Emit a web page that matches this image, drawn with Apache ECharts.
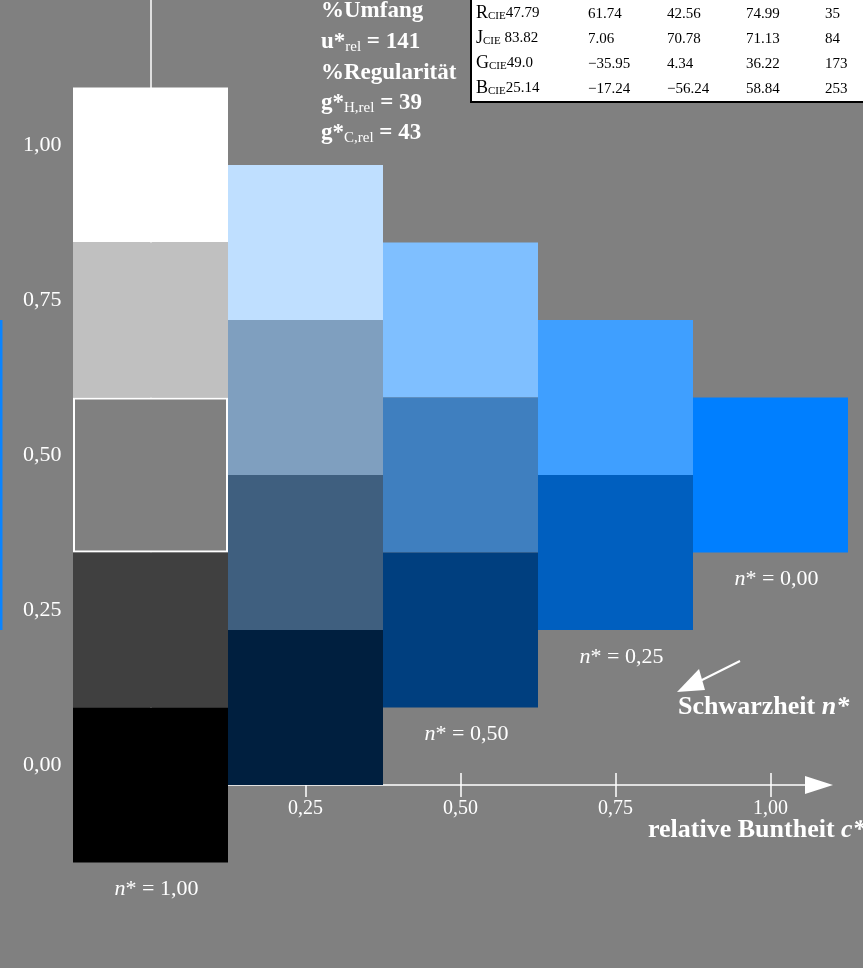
<!DOCTYPE html>
<html>
<head>
<meta charset="utf-8">
<script src="https://cdn.jsdelivr.net/npm/echarts@6/dist/echarts.min.js"></script>
<style>
html,body{margin:0;padding:0;background:#808080;}
#chart{width:863px;height:968px;}
</style>
</head>
<body>
<div id="chart"></div>
<script>
// ---- data ----
const cellC = [0, 0, 0, 0, 0, 0.25, 0.25, 0.25, 0.25, 0.5, 0.5, 0.5, 0.75, 0.75, 1];
const cellL = [1, 0.75, 0.5, 0.25, 0, 0.875, 0.625, 0.375, 0.125, 0.75, 0.5, 0.25, 0.625, 0.375, 0.5];
const cellColors = ['#ffffff', '#c0c0c0', '#808080', '#404040', '#000000',
  '#bfdfff', '#7f9fbf', '#3f5f7f', '#001f3f',
  '#7fbfff', '#3f7fbf', '#003f7f',
  '#3f9fff', '#005fbf',
  '#007fff'];
const cellOutlined = [false, false, true, false, false, false, false, false, false, false, false, false, false, false, false];
const xTickValues = [0.25, 0.5, 0.75, 1];
const xTickLabels = ['0,25', '0,50', '0,75', '1,00'];
const yTickValues = [0, 0.25, 0.5, 0.75, 1];
const yTickLabels = ['0,00', '0,25', '0,50', '0,75', '1,00'];
const nLabelC = [0, 0.5, 0.75, 1];
const nLabelL = [-0.125, 0.125, 0.25, 0.375];
const nLabelText = ['1,00', '0,50', '0,25', '0,00'];
const infoLines = [
  '{b|%Umfang}',
  '{b|u*}{s|rel}{b| = 141}',
  '{b|%Regularität}',
  '{b|g*}{s|H,rel}{b| = 39}',
  '{b|g*}{s|C,rel}{b| = 43}'
];
const tableRowNames = ['R', 'J', 'G', 'B'];
const tableValues = [
  ['47.79', '61.74', '42.56', '74.99', '35'],
  [' 83.82', '7.06', '70.78', '71.13', '84'],
  ['49.0', '\u221235.95', '4.34', '36.22', '173'],
  ['25.14', '\u221217.24', '\u221256.24', '58.84', '253']
];

// ---- layout constants ----
const FONT = 'Liberation Serif';
const TXT = '#ffffff';
const cellData = cellC.map((c, i) => [c, cellL[i], i]);
const nData = nLabelC.map((c, i) => [c, nLabelL[i], i]);

const graphics = [];
graphics.push({ type: 'rect', shape: { x: 0, y: 320, width: 2.5, height: 310 }, style: { fill: '#0a84ff' }, z: 5 });
const infoY = [12, 43, 74, 104, 134];
infoLines.forEach((t, i) => {
  graphics.push({
    type: 'text', x: 321, y: infoY[i], z: 10,
    style: {
      text: t, verticalAlign: 'middle', align: 'left',
      rich: {
        b: { fontFamily: FONT, fontWeight: 'bold', fontSize: 23, fill: TXT, verticalAlign: 'bottom', padding: [0, 0, 1, 0] },
        s: { fontFamily: FONT, fontSize: 15, fill: TXT, verticalAlign: 'bottom' }
      }
    }
  });
});
// table
graphics.push({ type: 'rect', shape: { x: 471, y: -5, width: 400, height: 107 }, style: { fill: '#ffffff', stroke: '#000000', lineWidth: 2 }, z: 8 });
const rowY = [13, 38, 63, 88];
const colX = [588, 667, 746, 825];
tableRowNames.forEach((nm, r) => {
  graphics.push({
    type: 'text', x: 476, y: rowY[r], z: 10,
    style: {
      text: '{m|' + nm + '}{s|CIE}{v|' + tableValues[r][0] + '}', verticalAlign: 'middle', align: 'left',
      rich: {
        m: { fontFamily: FONT, fontSize: 18, fill: '#000', verticalAlign: 'bottom' },
        s: { fontFamily: FONT, fontSize: 11, fill: '#000', verticalAlign: 'bottom' },
        v: { fontFamily: FONT, fontSize: 15, fill: '#000', verticalAlign: 'bottom', padding: [0, 0, 1, 0] }
      }
    }
  });
  for (let k = 1; k < 5; k++) {
    graphics.push({
      type: 'text', x: colX[k - 1], y: rowY[r] + 1, z: 10,
      style: { text: tableValues[r][k], fontFamily: FONT, fontSize: 15, fill: '#000', verticalAlign: 'middle', align: 'left' }
    });
  }
});
// Schwarzheit arrow + label
graphics.push({ type: 'line', shape: { x1: 740, y1: 661, x2: 700, y2: 681 }, style: { stroke: '#ffffff', lineWidth: 2 }, z: 10 });
graphics.push({ type: 'polygon', shape: { points: [[677, 692], [699, 669], [705, 690]] }, style: { fill: '#ffffff' }, z: 10 });
graphics.push({
  type: 'text', x: 678, y: 707, z: 10,
  style: {
    text: '{b|Schwarzheit }{bi|n*}', verticalAlign: 'middle', align: 'left',
    rich: {
      b: { fontFamily: FONT, fontWeight: 'bold', fontSize: 26, fill: TXT },
      bi: { fontFamily: FONT, fontWeight: 'bold', fontStyle: 'italic', fontSize: 26, fill: TXT }
    }
  }
});
graphics.push({
  type: 'text', x: 648, y: 830, z: 10,
  style: {
    text: '{b|relative Buntheit }{bi|c*}', verticalAlign: 'middle', align: 'left',
    rich: {
      b: { fontFamily: FONT, fontWeight: 'bold', fontSize: 26, fill: TXT },
      bi: { fontFamily: FONT, fontWeight: 'bold', fontStyle: 'italic', fontSize: 26, fill: TXT }
    }
  }
});

const chart = echarts.init(document.getElementById('chart'), null, { renderer: 'canvas' });
const Y_MAX = 785 / 620;
const X_MAX = (819 - 150.5) / 620;
const labelStyle = { fontFamily: FONT, fontSize: 22, color: TXT };

chart.setOption({
  backgroundColor: '#808080',
  animation: false,
  grid: { left: 150.5, right: 44, top: 0, bottom: 183, containLabel: false },
  xAxis: [{
    type: 'value', min: 0, max: X_MAX, interval: 0.25, position: 'bottom',
    splitLine: { show: false },
    axisLine: { show: true, onZero: false, lineStyle: { color: '#ffffff', width: 1.5 }, symbol: ['none', 'triangle'], symbolSize: [18, 28] },
    axisTick: { show: true, inside: false, length: 12, customValues: xTickValues, lineStyle: { color: '#ffffff', width: 1.5 } },
    axisLabel: Object.assign({}, labelStyle, { fontSize: 20, margin: 14, lineHeight: 20, customValues: xTickValues, formatter: v => xTickLabels[xTickValues.indexOf(v)] })
  }, {
    type: 'value', min: 0, max: X_MAX, interval: 0.25, position: 'bottom',
    splitLine: { show: false },
    axisLine: { show: false, onZero: false },
    axisTick: { show: true, inside: true, length: 12, customValues: xTickValues, lineStyle: { color: '#ffffff', width: 1.5 } },
    axisLabel: { show: false }
  }],
  yAxis: [{
    type: 'value', min: 0, max: Y_MAX, interval: 0.25, position: 'left',
    splitLine: { show: false },
    axisLine: { show: true, onZero: false, lineStyle: { color: '#ffffff', width: 1.5 } },
    axisTick: { show: false },
    axisLabel: Object.assign({ margin: 89, customValues: yTickValues, verticalAlign: 'bottom', lineHeight: 40, formatter: v => yTickLabels[yTickValues.indexOf(v)] }, labelStyle)
  }],
  graphic: graphics,
  series: [{
    type: 'custom',
    coordinateSystem: 'cartesian2d',
    clip: false,
    z: 3,
    data: cellData,
    renderItem: function (params, api) {
      const c = api.coord([api.value(0), api.value(1)]);
      const s = api.size([0.25, 0.25]);
      const idx = api.value(2);
      const x = c[0] - s[0] / 2, y = c[1] - s[1] / 2;
      const children = [{ type: 'rect', shape: { x: x, y: y, width: s[0], height: s[1] }, style: { fill: cellColors[idx] } }];
      if (cellOutlined[idx]) {
        children.push({ type: 'rect', shape: { x: x + 1, y: y + 1, width: s[0] - 2, height: s[1] - 2 }, style: { fill: null, stroke: '#ffffff', lineWidth: 2 } });
      }
      return { type: 'group', children: children };
    }
  }, {
    type: 'custom',
    coordinateSystem: 'cartesian2d',
    clip: false,
    z: 4,
    data: nData,
    renderItem: function (params, api) {
      const c = api.coord([api.value(0), api.value(1)]);
      const idx = api.value(2);
      return {
        type: 'text', x: c[0] + 6, y: c[1] + 27,
        style: {
          text: '{i|n}{r|* = ' + nLabelText[idx] + '}', align: 'center', verticalAlign: 'middle',
          rich: {
            i: { fontFamily: FONT, fontStyle: 'italic', fontSize: 22, fill: TXT },
            r: { fontFamily: FONT, fontSize: 22, fill: TXT }
          }
        }
      };
    }
  }]
});
</script>
</body>
</html>
